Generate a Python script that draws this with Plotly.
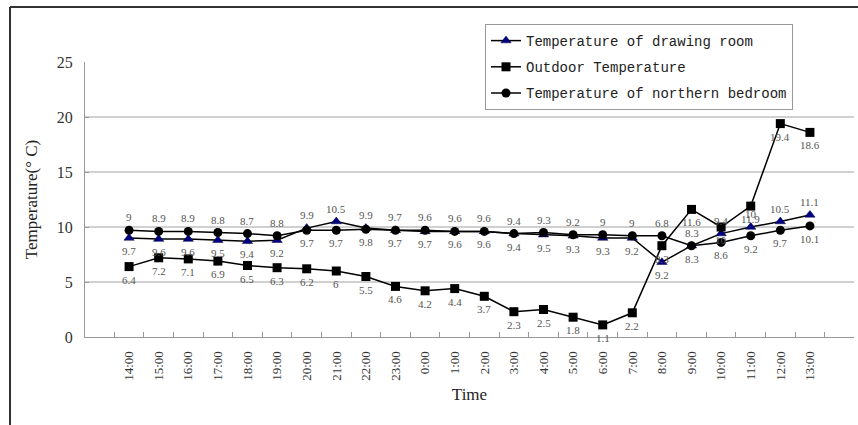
import plotly.graph_objects as go

times = ["14:00", "15:00", "16:00", "17:00", "18:00", "19:00", "20:00", "21:00",
         "22:00", "23:00", "0:00", "1:00", "2:00", "3:00", "4:00", "5:00", "6:00",
         "7:00", "8:00", "9:00", "10:00", "11:00", "12:00", "13:00"]
drawing_room = [9, 8.9, 8.9, 8.8, 8.7, 8.8, 9.9, 10.5, 9.9, 9.7, 9.6, 9.6, 9.6,
                9.4, 9.3, 9.2, 9, 9, 6.8, 8.3, 9.4, 10, 10.5, 11.1]
outdoor = [6.4, 7.2, 7.1, 6.9, 6.5, 6.3, 6.2, 6, 5.5, 4.6, 4.2, 4.4, 3.7,
           2.3, 2.5, 1.8, 1.1, 2.2, 8.3, 11.6, 10, 11.9, 19.4, 18.6]
bedroom = [9.7, 9.6, 9.6, 9.5, 9.4, 9.2, 9.7, 9.7, 9.8, 9.7, 9.7, 9.6, 9.6,
           9.4, 9.5, 9.3, 9.3, 9.2, 9.2, 8.3, 8.6, 9.2, 9.7, 10.1]
y_ticks = [0, 5, 10, 15, 20, 25]
grid_vals = [5, 10, 15, 20]

SERIF = "Liberation Serif, serif"
MONO = "Liberation Mono, monospace"
W, H = 858, 425
ML, MR, MT, MB = 85, 4, 62, 88
PW, PH = W - ML - MR, H - MT - MB


def px_x(p):
    return (p - ML) / PW


def px_y(p):
    return (H - MB - p) / PH


fig = go.Figure()
lbl = dict(family=SERIF, size=11, color="#555555")

fig.add_trace(go.Scatter(
    x=times, y=drawing_room, name="Temperature of drawing room",
    legendgroup="a", mode="lines+markers",
    line=dict(color="black", width=1.5),
    marker=dict(symbol="triangle-up", size=9, color="#000080",
                line=dict(color="#000040", width=0.5)),
))
fig.add_trace(go.Scatter(
    x=times, y=outdoor, name="Outdoor Temperature",
    legendgroup="b", mode="lines+markers",
    line=dict(color="black", width=1.5),
    marker=dict(symbol="square", size=9, color="black"),
))
fig.add_trace(go.Scatter(
    x=times, y=bedroom, name="Temperature of northern bedroom",
    legendgroup="c", mode="lines+markers",
    line=dict(color="black", width=1.5),
    marker=dict(symbol="circle", size=9, color="black"),
))

annotations = []
for t, d, b, o in zip(times, drawing_room, bedroom, outdoor):
    annotations.append(dict(x=t, y=max(d, b), text=str(d), showarrow=False,
                            yanchor="bottom", yshift=5, font=lbl))
    annotations.append(dict(x=t, y=min(d, b), text=str(b), showarrow=False,
                            yanchor="top", yshift=-5, font=lbl))
    annotations.append(dict(x=t, y=o, text=str(o), showarrow=False,
                            yanchor="top", yshift=-5, font=lbl))

shapes = []
for g in grid_vals:
    shapes.append(dict(type="line", xref="paper", yref="y", x0=0, x1=1, y0=g, y1=g,
                       line=dict(color="#c0c0c0", width=1.5), layer="below"))
# outer frame (document border)
shapes.append(dict(type="line", xref="paper", yref="paper",
                   x0=px_x(10), x1=px_x(870), y0=px_y(7), y1=px_y(7),
                   line=dict(color="#333333", width=2)))
shapes.append(dict(type="line", xref="paper", yref="paper",
                   x0=px_x(10), x1=px_x(10), y0=px_y(7), y1=px_y(440),
                   line=dict(color="#333333", width=2)))

fig.update_layout(
    width=W, height=H,
    margin=dict(l=ML, r=MR, t=MT, b=MB),
    paper_bgcolor="white", plot_bgcolor="white",
    font=dict(family=SERIF, size=13, color="#222222"),
    showlegend=True,
    legend=dict(x=px_x(485), y=px_y(24), xanchor="left", yanchor="top",
                bordercolor="#999999", borderwidth=1, bgcolor="white",
                font=dict(family=MONO, size=14, color="#222222"),
                tracegroupgap=5, itemwidth=30),
    shapes=shapes,
    annotations=annotations,
    xaxis=dict(
        type="category", categoryorder="array", categoryarray=times,
        tickangle=-90, tickfont=dict(family=SERIF, size=13, color="#333333"),
        showline=True, linecolor="#999999", linewidth=1,
        ticks="inside", ticklen=5, tickcolor="#999999", tickson="boundaries",
        ticklabelstandoff=8,
        showgrid=False,
        title=dict(text="Time", font=dict(family=SERIF, size=17, color="#222222"),
                   standoff=8),
    ),
    yaxis=dict(
        range=[0, 25], tickvals=y_ticks,
        tickfont=dict(family=SERIF, size=16, color="#333333"),
        showline=True, linecolor="#999999", linewidth=1,
        ticks="inside", ticklen=4, tickcolor="#999999",
        ticklabelstandoff=8,
        showgrid=False, zeroline=False,
        title=dict(text="Temperature(° C)",
                   font=dict(family=SERIF, size=17, color="#222222"), standoff=14),
    ),
)

fig.write_html("out.html")
